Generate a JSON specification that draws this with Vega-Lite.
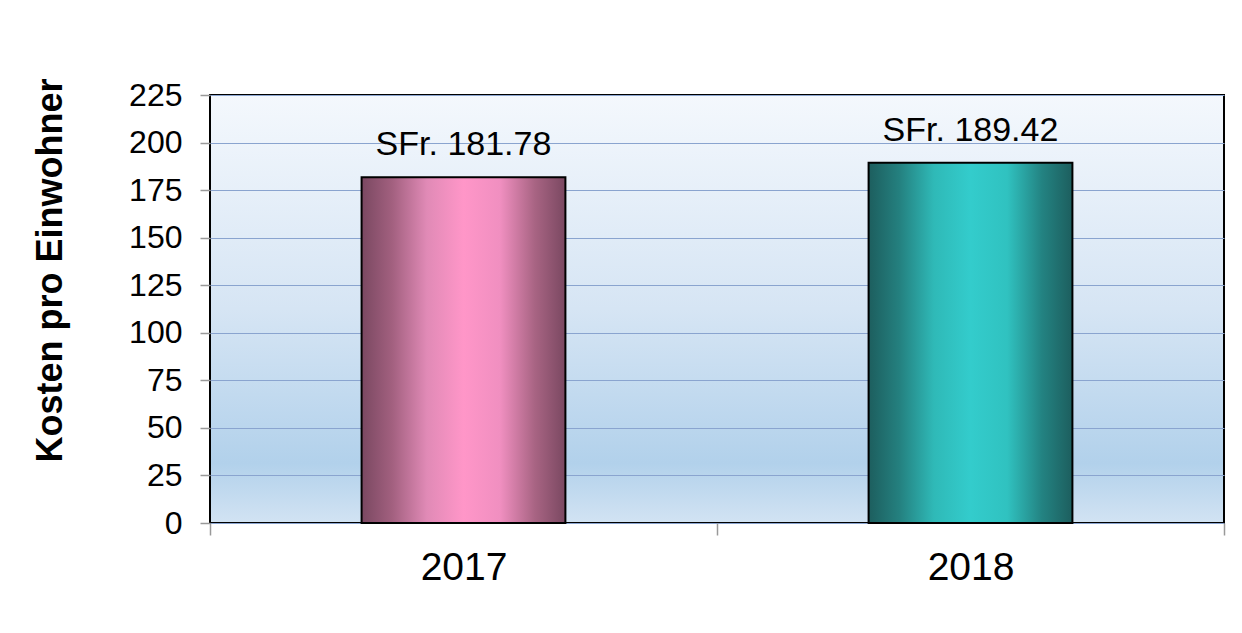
{
  "$schema": "https://vega.github.io/schema/vega-lite/v6.json",
  "width": 1014,
  "height": 428,
  "autosize": {"type": "none"},
  "padding": {"left": 210, "top": 95, "right": 18, "bottom": 110},
  "background": "white",
  "config": {
    "font": "Liberation Sans",
    "view": {
      "stroke": "#000000",
      "strokeWidth": 2,
      "fill": {
        "gradient": "linear",
        "x1": 0, "y1": 0, "x2": 0, "y2": 1,
        "stops": [
          {"offset": 0, "color": "#f4f8fd"},
          {"offset": 0.5, "color": "#d6e5f4"},
          {"offset": 0.86, "color": "#b2d1eb"},
          {"offset": 1, "color": "#d2e3f3"}
        ]
      }
    }
  },
  "data": {
    "values": [
      {"year": "2017", "value": 181.78},
      {"year": "2018", "value": 189.42}
    ]
  },
  "transform": [
    {"calculate": "'SFr. ' + format(datum.value, '.2f')", "as": "label"}
  ],
  "encoding": {
    "x": {
      "field": "year",
      "type": "nominal",
      "scale": {"paddingInner": 0, "paddingOuter": 0},
      "axis": {
        "title": null,
        "labelAngle": 0,
        "labelFontSize": 39,
        "labelColor": "#000000",
        "labelPadding": 13,
        "tickBand": "extent",
        "tickSize": 12,
        "tickColor": "#999999",
        "tickWidth": 1.5,
        "domain": false,
        "grid": false
      }
    },
    "y": {
      "field": "value",
      "type": "quantitative",
      "scale": {"domain": [0, 225], "nice": false},
      "axis": {
        "title": "Kosten pro Einwohner",
        "titleFontSize": 36,
        "titleFontWeight": "bold",
        "titleColor": "#000000",
        "titleX": -160,
        "titleY": 175,
        "titleAngle": 270,
        "titleAlign": "center",
        "titleBaseline": "middle",
        "values": [0, 25, 50, 75, 100, 125, 150, 175, 200, 225],
        "labelFontSize": 32,
        "labelColor": "#000000",
        "labelPadding": 18,
        "tickSize": 10,
        "tickColor": "#999999",
        "tickWidth": 1.5,
        "domain": false,
        "grid": true,
        "gridColor": "#8aa4cf",
        "gridWidth": 1.2
      }
    }
  },
  "layer": [
    {
      "transform": [{"filter": "datum.year == '2017'"}],
      "mark": {
        "type": "bar",
        "width": {"band": 0.402},
        "stroke": "#000000",
        "strokeWidth": 2,
        "fill": {
          "gradient": "linear",
          "x1": 0, "y1": 0, "x2": 1, "y2": 0,
          "stops": [
            {"offset": 0, "color": "#7a4861"},
            {"offset": 0.15, "color": "#a2607f"},
            {"offset": 0.32, "color": "#e08ab6"},
            {"offset": 0.5, "color": "#ff96c8"},
            {"offset": 0.68, "color": "#f08fc0"},
            {"offset": 0.85, "color": "#a86483"},
            {"offset": 1, "color": "#7a4861"}
          ]
        }
      }
    },
    {
      "transform": [{"filter": "datum.year == '2018'"}],
      "mark": {
        "type": "bar",
        "width": {"band": 0.402},
        "stroke": "#000000",
        "strokeWidth": 2,
        "fill": {
          "gradient": "linear",
          "x1": 0, "y1": 0, "x2": 1, "y2": 0,
          "stops": [
            {"offset": 0, "color": "#1d5e5e"},
            {"offset": 0.15, "color": "#24807f"},
            {"offset": 0.32, "color": "#2fb9b7"},
            {"offset": 0.5, "color": "#33cccc"},
            {"offset": 0.68, "color": "#30c2c0"},
            {"offset": 0.85, "color": "#238382"},
            {"offset": 1, "color": "#1d5e5e"}
          ]
        }
      }
    },
    {
      "mark": {
        "type": "text",
        "fontSize": 34,
        "color": "#000000",
        "baseline": "alphabetic",
        "dy": -22
      },
      "encoding": {
        "text": {"field": "label", "type": "nominal"}
      }
    }
  ]
}
